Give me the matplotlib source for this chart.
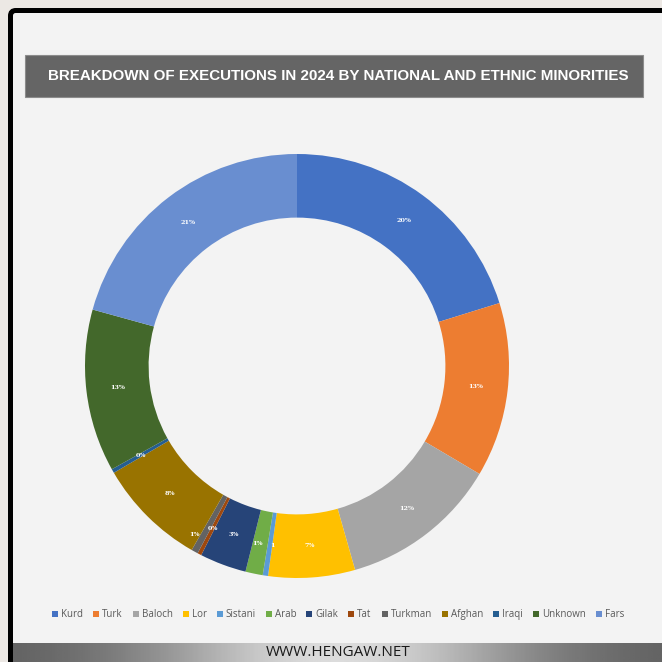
import matplotlib.pyplot as plt
from matplotlib.patches import FancyBboxPatch, Rectangle
import numpy as np

# executions per group, clockwise from 12 o'clock
groups = ["Kurd", "Turk", "Baloch", "Lor", "Sistani", "Arab", "Gilak",
          "Tat", "Turkman", "Afghan", "Iraqi", "Unknown", "Fars"]
counts = [199, 131, 119, 65, 4, 13, 35, 3, 5, 82, 3, 122, 204]
pct_labels = ["20%", "13%", "12%", "7%", "1", "1%", "3%",
              "0%", "1%", "8%", "0%", "13%", "21%"]
colors = ["#4472C4", "#ED7D31", "#A5A5A5", "#FFC000", "#5B9BD5", "#70AD47",
          "#264478", "#9E480E", "#636363", "#997300", "#255E91", "#43682B",
          "#698ED0"]

title = "BREAKDOWN OF EXECUTIONS IN 2024 BY NATIONAL AND ETHNIC MINORITIES"
footer = "WWW.HENGAW.NET"

# label nudges (points) where the slices are too thin to hold their text
label_nudge = {"Turkman": (-11, -8), "Tat": (-1, -2), "Sistani": (2, -1),
               "Arab": (-2, -1)}

W = H = 662
fig = plt.figure(figsize=(W / 100, H / 100), dpi=100, facecolor="#ECE8E4")


def fx(px):
    return px / W


def fy(py):
    return 1 - py / H


# black frame (runs off the right and bottom edges)
fig.patches.append(FancyBboxPatch((fx(10.5), fy(700)), fx(720), fy(10.5) - fy(700),
                                  boxstyle="round,pad=0,rounding_size=0.008",
                                  transform=fig.transFigure, facecolor="#F3F3F3",
                                  edgecolor="black", linewidth=3.6, zorder=-2))

# title bar
fig.patches.append(Rectangle((fx(25), fy(97)), fx(618), fy(55) - fy(97),
                             transform=fig.transFigure, facecolor="#656565",
                             edgecolor="#8C8C8C", linewidth=0.8, zorder=-1))
fig.text(fx(338), fy(76), title, color="white", fontsize=10.9, fontweight="bold",
         family="Liberation Sans", ha="center", va="center")

# footer gradient bar
gx = np.linspace(0, 1, 256)
grad = 0.36 + 0.5 * np.exp(-((gx - 0.5) / 0.3) ** 2)
fax = fig.add_axes([fx(13), 0, 1 - fx(13), fy(643)], zorder=2)
fax.imshow(np.tile(grad, (2, 1)), cmap="gray", vmin=0, vmax=1, aspect="auto",
           extent=[0, 1, 0, 1])
fax.axis("off")
fig.text(fx(338), fy(653), footer, color="#1a1a1a", fontsize=11,
         family="Open Sans", ha="center", va="center", zorder=5)

# donut
r_px = 212
ax = fig.add_axes([fx(297 - r_px), fy(366 + r_px), fx(2 * r_px), fx(2 * r_px)], zorder=2)
wedges, _ = ax.pie(counts, colors=colors, startangle=90, counterclock=False,
                   radius=1, wedgeprops=dict(width=0.3, linewidth=0))
for g, w, lab in zip(groups, wedges, pct_labels):
    ang = np.deg2rad((w.theta1 + w.theta2) / 2)
    ax.annotate(lab, (0.85 * np.cos(ang), 0.85 * np.sin(ang)),
                xytext=label_nudge.get(g, (0, 0)), textcoords="offset points",
                color="white", fontsize=4.6, fontweight="bold",
                family="DejaVu Serif", ha="center", va="center")
ax.set_xlim(-1, 1)
ax.set_ylim(-1, 1)
ax.set_aspect("equal")
ax.axis("off")

# legend row, laid out entry by entry so all labels share a baseline
renderer = fig.canvas.get_renderer()
box, gap_in, gap_out = 6, 3, 10
entries = []
total = 0
for g in groups:
    t = fig.text(0, fy(617), g, color="#595959", fontsize=7, family="Open Sans",
                 ha="left", va="baseline")
    tw = t.get_window_extent(renderer).width
    entries.append((t, tw))
    total += box + gap_in + tw
total += gap_out * (len(groups) - 1)
x = 338 - total / 2
for (t, tw), c in zip(entries, colors):
    fig.patches.append(Rectangle((fx(x), fy(617)), fx(box), fx(box),
                                 transform=fig.transFigure, facecolor=c,
                                 edgecolor="none"))
    t.set_x(fx(x + box + gap_in))
    x += box + gap_in + tw + gap_out

fig.savefig("out.png", dpi=100, facecolor=fig.get_facecolor())
